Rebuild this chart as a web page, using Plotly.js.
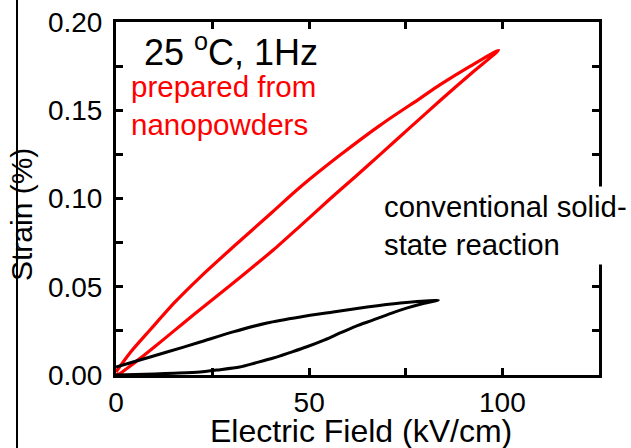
<!DOCTYPE html>
<html>
<head>
<meta charset="utf-8">
<script src="https://cdn.plot.ly/plotly-3.0.1.min.js"></script>
<style>html,body{margin:0;padding:0;background:#fff;}#chart{width:631px;height:448px;}</style>
</head>
<body>
<div id="chart"></div>
<script>
// Red loop (prepared from nanopowders): rising branch then returning branch
const nanoUpX = [0, 1, 3, 6, 10, 15, 20, 25, 30, 35, 40.7, 47.7, 55, 62, 68.4, 76, 83.9, 92, 99];
const nanoUpY = [0, 0.0008, 0.004, 0.009, 0.016, 0.025, 0.034, 0.0428, 0.0515, 0.0605, 0.0708, 0.0845, 0.099, 0.1125, 0.125, 0.140, 0.1555, 0.171, 0.184];
const nanoDownX = [99, 91.7, 83.9, 78.8, 68.4, 58.0, 47.7, 39.9, 30.3, 21.8, 15.3, 8.8, 3.6, 0];
const nanoDownY = [0.184, 0.175, 0.1645, 0.1569, 0.1416, 0.1246, 0.1065, 0.0912, 0.0725, 0.0555, 0.0414, 0.0255, 0.0125, 0.0017];

// Black loop (conventional solid-state reaction)
const convUpX = [0, 5, 10, 15, 21.8, 26, 32, 36, 40.7, 45, 49.4, 54, 58, 62, 66.6, 71, 75.4, 79.5, 83.4];
const convUpY = [0, 0.0003, 0.0006, 0.001, 0.0017, 0.0028, 0.0045, 0.0068, 0.0096, 0.0127, 0.016, 0.0199, 0.0238, 0.0276, 0.0312, 0.0348, 0.038, 0.0405, 0.0425];
const convDownX = [83.4, 73.6, 65, 56.2, 47.7, 39.1, 30.3, 21.8, 13.2, 4.4, 0];
const convDownY = [0.0425, 0.0408, 0.0385, 0.0357, 0.0329, 0.0295, 0.0244, 0.0187, 0.013, 0.0074, 0.0045];

const xTickVals = [0, 50, 100];
const xTickText = ['0', '50', '100'];
const yTickVals = [0, 0.05, 0.10, 0.15, 0.20];
const yTickText = ['0.00', '0.05', '0.10', '0.15', '0.20'];

const FONT = 'Liberation Sans, Arial, sans-serif';
const L = 116, R = 599, T = 22, B = 375;
const px = v => (v - L) / (R - L);
const py = v => (B - v) / (B - T);

const traces = [
  {x: nanoUpX.concat(nanoDownX.slice(1)), y: nanoUpY.concat(nanoDownY.slice(1)), mode: 'lines',
   line: {color: '#ff0000', width: 3.2, shape: 'spline', smoothing: 0.8}, hoverinfo: 'skip', cliponaxis: false},
  {x: convUpX.concat(convDownX.slice(1)), y: convUpY.concat(convDownY.slice(1)), mode: 'lines',
   line: {color: '#000000', width: 3, shape: 'spline', smoothing: 0.8}, hoverinfo: 'skip', cliponaxis: false}
];

const axisCommon = {
  showline: true, linewidth: 3, linecolor: '#000', mirror: 'ticks',
  ticks: 'inside', ticklen: 7, tickwidth: 3, tickcolor: '#000',
  showgrid: false, zeroline: false,
  tickfont: {family: FONT, size: 28, color: '#000'}
};

const layout = {
  width: 631, height: 448,
  margin: {l: L, r: 631 - R, t: T, b: 448 - B},
  paper_bgcolor: '#fff', plot_bgcolor: '#fff',
  showlegend: false,
  xaxis: Object.assign({}, axisCommon, {
    range: [0, 125], tickmode: 'array', tickvals: xTickVals, ticktext: xTickText,
    minor: {dtick: 25, tick0: 0, ticks: 'inside', ticklen: 7, tickwidth: 3, tickcolor: '#000'}
  }),
  yaxis: Object.assign({}, axisCommon, {
    range: [0, 0.2], tickmode: 'array', tickvals: yTickVals, ticktext: yTickText,
    ticklabelstandoff: 5,
    minor: {dtick: 0.025, tick0: 0, ticks: 'inside', ticklen: 7, tickwidth: 3, tickcolor: '#000'}
  }),
  shapes: [
    {type: 'line', xref: 'paper', yref: 'paper', x0: px(17), x1: px(17), y0: py(0), y1: py(448),
     line: {color: '#000', width: 2}}
  ],
  annotations: [
    {text: '25 <sup>o</sup>C, 1Hz', xref: 'paper', yref: 'paper', x: px(142), y: py(50),
     xanchor: 'left', yanchor: 'middle', showarrow: false,
     font: {family: FONT, size: 36, color: '#000'}},
    {text: 'prepared from<br>nanopowders', xref: 'paper', yref: 'paper', x: px(129), y: py(105),
     xanchor: 'left', yanchor: 'middle', align: 'left', showarrow: false,
     font: {family: FONT, size: 29.5, color: '#ff0000'}},
    {text: 'conventional solid-<br>state reaction', xref: 'paper', yref: 'paper', x: px(380), y: py(225),
     xanchor: 'left', yanchor: 'middle', align: 'left', showarrow: false, bgcolor: '#fff', borderpad: 3,
     font: {family: FONT, size: 29.3, color: '#000'}},
    {text: 'Strain (%)', xref: 'paper', yref: 'paper', x: px(21), y: py(215), textangle: -90,
     xanchor: 'center', yanchor: 'middle', showarrow: false,
     font: {family: FONT, size: 30, color: '#000'}},
    {text: 'Electric Field (kV/cm)', xref: 'paper', yref: 'paper', x: px(361), y: py(431),
     xanchor: 'center', yanchor: 'middle', showarrow: false,
     font: {family: FONT, size: 32, color: '#000'}}
  ]
};

Plotly.newPlot('chart', traces, layout, {staticPlot: true, displayModeBar: false});
</script>
</body>
</html>
